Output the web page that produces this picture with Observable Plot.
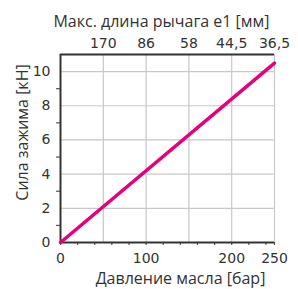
<!DOCTYPE html>
<html>
<head>
<meta charset="utf-8">
<script src="https://cdn.jsdelivr.net/npm/d3@7"></script>
<script src="https://cdn.jsdelivr.net/npm/@observablehq/plot@0.6"></script>
<style>
  html, body { margin: 0; padding: 0; background: #fff; }
  svg { display: block; }
</style>
</head>
<body>
<div id="chart"></div>
<script>
// Data
const pressure = [0, 250];          // Давление масла [бар]
const force = [0, 10.5];            // Сила зажима [кН]
const bottomMinorTicks = [0, 20, 40, 60, 80, 100, 120, 140, 160, 180, 200, 220, 240, 250];
const bottomLabelTicks = [0, 100, 200, 250];
const gridXTicks = [50, 100, 150, 200, 250];
const topTickLabels = ["170", "86", "58", "44,5", "36,5"];
const yLabelTicks = [0, 2, 4, 6, 8, 10];
const yGridTicks = [2, 4, 6, 8, 10];
const yMinorTicks = [1, 3, 5, 7, 9];

const xLabel = "Давление масла [бар]";
const yLabel = "Сила зажима [кН]";
const topLabel = "Макс. длина рычага e1 [мм]";

const lineData = pressure.map((p, i) => ({p, f: force[i]}));
const axisColor = "#333";
const gridColor = "#c8c8c8";
const labelFont = "'Open Sans', 'Noto Sans', sans-serif";

const chart = Plot.plot({
  width: 298,
  height: 289,
  marginLeft: 60,
  marginRight: 24,
  marginTop: 54,
  marginBottom: 47,
  style: {fontFamily: "'DejaVu Sans', sans-serif", fontSize: "14px", color: axisColor},
  x: {domain: [0, 250]},
  y: {domain: [0, 11]},
  marks: [
    Plot.gridX(gridXTicks, {stroke: gridColor, strokeOpacity: 1, strokeWidth: 1.2}),
    Plot.gridY(yGridTicks, {stroke: gridColor, strokeOpacity: 1, strokeWidth: 1.2}),
    // bottom minor ticks (no text)
    Plot.axisX({anchor: "bottom", ticks: bottomMinorTicks, tickSize: 3, fill: "none", label: null, stroke: "#555", strokeWidth: 1.2}),
    // bottom labels
    Plot.axisX({anchor: "bottom", ticks: bottomLabelTicks, tickSize: 0, tickPadding: 11, tickFormat: d => String(d),
      label: null, fill: axisColor}),
    // top labels
    Plot.axisX({anchor: "top", ticks: gridXTicks, tickSize: 0, tickPadding: 7,
      tickFormat: d => topTickLabels[gridXTicks.indexOf(d)], label: null, fill: axisColor}),
    // y minor ticks (no text)
    Plot.axisY({anchor: "left", ticks: yMinorTicks, tickSize: 4, fill: "none", label: null, stroke: "#555", strokeWidth: 1.2}),
    // y labels
    Plot.axisY({anchor: "left", ticks: yLabelTicks, tickSize: 0, tickPadding: 10, tickFormat: d => String(d),
      label: null, fill: axisColor}),
    // axis titles
    Plot.text([topLabel], {frameAnchor: "top", textAnchor: "middle", lineAnchor: "middle", dx: -6, dy: -33,
      fontFamily: labelFont, fontSize: 16, fill: axisColor}),
    Plot.text([xLabel], {frameAnchor: "bottom", textAnchor: "middle", lineAnchor: "middle", dx: 13, dy: 36,
      fontFamily: labelFont, fontSize: 16, fill: axisColor}),
    Plot.text([yLabel], {frameAnchor: "left", textAnchor: "middle", lineAnchor: "middle", rotate: -90, dx: -38, dy: -16,
      fontFamily: labelFont, fontSize: 16, fill: axisColor}),
    // frame lines
    Plot.ruleY([0], {stroke: axisColor, strokeWidth: 2}),
    Plot.ruleY([11], {stroke: axisColor, strokeWidth: 2}),
    Plot.ruleX([0], {stroke: axisColor, strokeWidth: 2}),
    Plot.line(lineData, {x: "p", y: "f", stroke: "#e5007d", strokeWidth: 3.5})
  ]
});
document.getElementById("chart").appendChild(chart);
</script>
</body>
</html>
